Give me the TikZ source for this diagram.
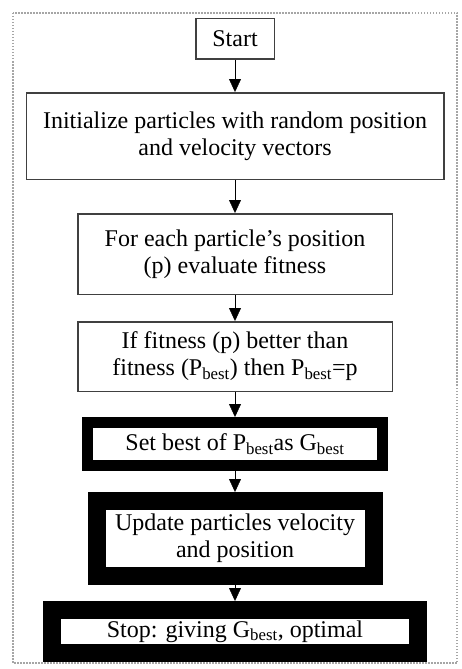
\documentclass[tikz,border=0pt]{standalone}
\usepackage{fontspec}
\setmainfont{Liberation Serif}
\usetikzlibrary{arrows.meta,positioning}
\newcommand\best{\textsubscript{best}}

\begin{document}
\begin{tikzpicture}[x=1pt,y=-1pt,
    plainbox/.style={rectangle,draw=black!75,line width=1.5pt,inner sep=0pt,align=center,
                     font=\fontsize{24}{27}\selectfont},
    heavybox/.style={plainbox,draw=black},
    >={Triangle[length=13pt,width=12pt]}]
       \useasboundingbox (0,0) rectangle (461,669);
       \draw [gray!70,line width=1.2pt,dash pattern=on 1.5pt off 1.5pt] (13,13) rectangle (457,663);

       \node[plainbox,minimum width=78.5pt,minimum height=40.5pt] (start) at (235,39) {Start};
       \node[plainbox,minimum width=417.5pt,minimum height=86.5pt] (init) [below=32pt of start]
            {Initialize particles with random position\\and velocity vectors};
       \node[plainbox,minimum width=314.5pt,minimum height=80.5pt] (eval) [below=33pt of init]
            {For each particle’s position\\(p) evaluate fitness};
       \node[plainbox,minimum width=314.5pt,minimum height=69.5pt] (compare) [below=26pt of eval]
            {If fitness (p) better than\\fitness (P\best) then P\best=p};
       \node[heavybox,line width=11pt,minimum width=295pt,minimum height=43pt] (gbest) [below=25pt of compare]
            {Set best of P\best as G\best};
       \node[heavybox,line width=18pt,minimum width=277pt,minimum height=75pt] (update) [below=21pt of gbest]
            {Update particles velocity\\and position};
       \node[heavybox,line width=18pt,minimum width=366pt,minimum height=43pt] (stop) [below=16pt of update]
            {Stop: giving G\best, optimal};

       \draw [->] (start) to [line width=1.2pt] (init);
       \draw [->] (init) to [line width=1.2pt] (eval);
       \draw [->] (eval) to [line width=1.2pt] (compare);
       \draw [->] (compare) to [line width=1.2pt] (gbest);
       \draw [->] (gbest) to [line width=1.2pt] (update);
       \draw [->] (update) to [line width=1.2pt] (stop);
    \end{tikzpicture}
\end{document}
